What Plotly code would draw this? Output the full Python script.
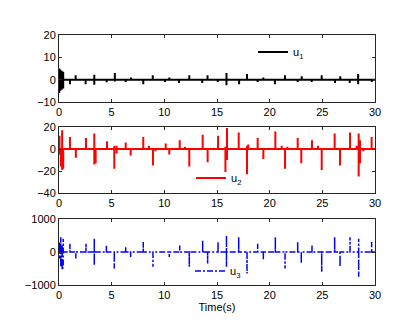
import plotly.graph_objects as go

# spike times (s) and their positive / negative excursions
u1_t = [0.02, 0.12, 0.25, 0.4, 1.04, 1.58, 2.53, 3.35, 4.53, 5.3, 6.33, 6.84, 8.0, 8.9,
        10.06, 10.47, 11.39, 12.37, 13.6, 14.1, 15.07, 15.9, 17.1, 17.85, 18.86, 19.4,
        20.5, 21.46, 22.66, 23.04, 23.99, 24.94, 26.2, 26.7, 27.6, 28.4, 29.7]
u1_hi = [5, 4.5, 4, 3.5, 0, 2, 0, 2.2, 0, 3, 0, 1, 0, 2,
         0, 1, 0, 2, 0, 2, 0, 3, 0, 2.5, 0, 1,
         0, 2, 0, 1.5, 0, 2, 0, 1.5, 0, 2.5, 0]
u1_lo = [-6, -5, -4.5, -4, -2, 0, -2, -2.3, -1.2, -0.8, -1, 0, -2, 0,
         -1, 0, -1.5, 0, -1.5, 0, -1, -2.5, -2, 0, -1, 0,
         -2, 0, -1, 0, -1, 0, -1.5, 0, -1.5, -2, -1]

u2_t = [0.05, 0.17, 0.3, 0.4, 1.04, 1.6, 2.56, 3.35, 3.48, 4.56, 5.25, 5.47, 6.33, 6.8,
        8.0, 8.54, 8.92, 9.15, 10.13, 10.47, 11.46, 11.96, 12.37, 13.64, 14.11, 15.1,
        15.8, 15.95, 17.06, 17.85, 17.97, 18.86, 19.4, 20.54, 21.14, 21.46, 21.68,
        22.66, 23.0, 24.02, 24.59, 24.94, 26.17, 26.68, 27.63, 28.26, 28.45, 28.58,
        28.9, 29.68]
u2_hi = [12, 0, 17, 0, 11, 0, 10, 14, 0, 7, 3, 3, 6, 0,
         11, 3, 0, 0, 5, 0, 8, 2, 0, 13, 0, 12,
         2, 19, 15, 3, 4, 10, 0, 16, 3, 0, 2,
         10, 0, 8, 3, 0, 14, 0, 15, 3, 14, 8,
         0, 11]
u2_lo = [-5, -16, -19, -18, 0, -8, 0, -14, -13, 0, -18, -4, 0, -6,
         0, 0, -15, -2, 0, -5, 0, 0, -16, 0, -12, 0,
         -21, -10, 0, -23, 0, 0, -9, 0, 0, -18, 0,
         0, -13, 0, 0, -19, 0, -15, 0, 0, -25, -13,
         -2, 0]

u3_t = [0.05, 0.17, 0.3, 0.4, 1.04, 1.6, 2.56, 3.35, 4.5, 5.25, 6.33, 6.8, 8.0, 8.92,
        10.47, 11.46, 12.37, 13.64, 14.11, 15.1, 15.9, 17.06, 17.85, 18.86, 19.4,
        20.54, 21.46, 22.66, 23.0, 24.02, 24.94, 26.17, 26.68, 27.63, 28.45, 29.68]
u3_hi = [300, 450, 200, 400, 250, 0, 250, 400, 200, 0, 150, 0, 300, 0,
         0, 200, 0, 350, 0, 300, 500, 450, 0, 250, 0,
         450, 0, 300, 0, 200, 0, 450, 0, 450, 400, 300]
u3_lo = [-200, -450, -550, -500, 0, -200, 0, -400, 0, -500, 0, -150, 0, -450,
         -150, 0, -450, 0, -350, 0, -450, 0, -650, 0, -250,
         0, -500, 0, -350, 0, -600, 0, -450, 0, -750, 0]


def spikes(ts, hi, lo, t_end=30):
    xs, ys = [0], [0]
    for t, h, l in zip(ts, hi, lo):
        xs += [t, t, t, t]
        ys += [0, h, l, 0]
    xs.append(t_end)
    ys.append(0)
    return xs, ys


fig = go.Figure()
x1, y1 = spikes(u1_t, u1_hi, u1_lo)
x2, y2 = spikes(u2_t, u2_hi, u2_lo)
x3, y3 = spikes(u3_t, u3_hi, u3_lo)

fig.add_trace(go.Scatter(x=x1, y=y1, mode="lines", name="u<sub>1</sub>",
                         line=dict(color="black", width=2), xaxis="x", yaxis="y",
                         legend="legend"))
fig.add_trace(go.Scatter(x=x2, y=y2, mode="lines", name="u<sub>2</sub>",
                         line=dict(color="#ff0000", width=2), xaxis="x2", yaxis="y2",
                         legend="legend2"))
fig.add_trace(go.Scatter(x=x3, y=y3, mode="lines", name="u<sub>3</sub>",
                         line=dict(color="#0000ff", width=1.5, dash="6px,2px,2px,2px"),
                         xaxis="x3", yaxis="y3", legend="legend3"))

W, H = 408, 333
OFF = 8  # page body margin


def fx(px):
    return (px - OFF) / W


def fy(py):
    return 1 - (py - OFF) / H


xdom = [fx(59), fx(375)]
font = dict(family="Liberation Sans, Arial, sans-serif", size=11, color="black")
axcommon = dict(showline=True, mirror="allticks", linecolor="#262626", linewidth=1,
                ticks="inside", ticklen=3, tickcolor="#262626", showgrid=False,
                zeroline=False, automargin=False, tickfont=font)

fig.update_layout(
    width=W, height=H, margin=dict(l=0, r=0, t=0, b=0),
    paper_bgcolor="white", plot_bgcolor="white", font=font,
    xaxis=dict(domain=xdom, anchor="y", range=[0, 30], tickvals=[0, 5, 10, 15, 20, 25, 30], **axcommon),
    yaxis=dict(domain=[fy(102), fy(35)], anchor="x", range=[-10, 20], tickvals=[-10, 0, 10, 20], **axcommon),
    xaxis2=dict(domain=xdom, anchor="y2", range=[0, 30], tickvals=[0, 5, 10, 15, 20, 25, 30], **axcommon),
    yaxis2=dict(domain=[fy(193), fy(127)], anchor="x2", range=[-40, 20], tickvals=[-40, -20, 0, 20], **axcommon),
    xaxis3=dict(domain=xdom, anchor="y3", range=[0, 30], tickvals=[0, 5, 10, 15, 20, 25, 30],
                title=dict(text="Time(s)", font=font, standoff=2), **axcommon),
    yaxis3=dict(domain=[fy(285), fy(219)], anchor="x3", range=[-1000, 1000], tickvals=[-1000, 0, 1000], **axcommon),
    legend=dict(x=fx(253), y=fy(52), xanchor="left", yanchor="middle", bgcolor="rgba(0,0,0,0)",
                font=font, itemwidth=30),
    legend2=dict(x=fx(191), y=fy(178), xanchor="left", yanchor="middle", bgcolor="rgba(0,0,0,0)",
                 font=font, itemwidth=30),
    legend3=dict(x=fx(190), y=fy(271), xanchor="left", yanchor="middle", bgcolor="rgba(0,0,0,0)",
                 font=font, itemwidth=30),
    showlegend=True,
)
fig.write_html("out.html")
